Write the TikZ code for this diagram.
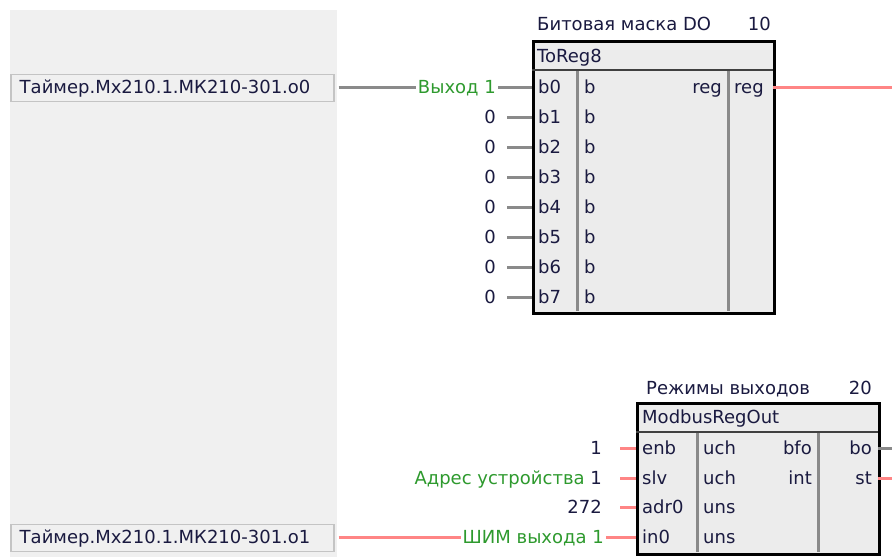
\documentclass[tikz,border=0pt]{standalone}
\usepackage{fontspec}
\setmainfont{DejaVu Sans}
\usetikzlibrary{positioning}
\definecolor{panelgray}{HTML}{F0F0F0}
\definecolor{blockgray}{HTML}{ECECEC}
\definecolor{srcedge}{HTML}{C4C4C4}
\definecolor{txtnavy}{HTML}{1A1A40}
\definecolor{wiregray}{HTML}{8A8A8A}
\definecolor{wirered}{HTML}{FF8585}
\definecolor{lblgreen}{HTML}{2E9A2E}
\tikzset{
  every node/.style={text height=14.5pt, text depth=2.5pt},
  srcbox/.style={draw=srcedge, line width=1.5pt, fill=panelgray, anchor=north west,
    text width=305pt, inner xsep=9pt, inner ysep=0pt, minimum height=27pt, align=left, text=txtnavy},
  fblock/.style={draw=black, line width=3pt, fill=blockgray, anchor=north west, inner sep=0pt,
    text height=0pt, text depth=0pt},
  hdrline/.style={draw=black!75, line width=1.6pt},
  colline/.style={draw=wiregray, line width=3pt},
  pinname/.style={anchor=west, inner sep=0pt, text=txtnavy},
  pinout/.style={anchor=east, inner sep=0pt, text=txtnavy},
  constval/.style={anchor=east, inner sep=2pt, text=txtnavy},
  varlbl/.style={anchor=east, inner sep=2pt, text=lblgreen},
  wire/.style={draw=wiregray, line width=3pt},
  redwire/.style={draw=wirered, line width=3pt}
}
\begin{document}
\begin{tikzpicture}[x=1pt, y=-1pt, font=\fontsize{18}{20}\selectfont]
  \useasboundingbox[fill=white] (0,0) rectangle (892,557);
  % panel of sources
  \fill[panelgray] (10,10) rectangle (337,557);
  \node[srcbox] (src0) at (10,73.5) {Таймер.Мх210.1.МК210-301.о0};
  \node[srcbox] (src1) at (10,523.5) {Таймер.Мх210.1.МК210-301.о1};

  % block ToReg8
  \node[txtnavy, anchor=west, inner sep=0pt] (maskttl) at (537,24) {Битовая маска DO};
  \node[txtnavy, anchor=east, inner sep=0pt] (masknum) at (771,24) {10};
  \node[fblock, minimum width=241pt, minimum height=272pt] (mask) at (532,40) {};
  \node[pinname] (maskhdr) at (537,56) {ToReg8};
  \draw[hdrline] (532,70) -- (773,70);
  \draw[colline] (577,71) -- (577,311);
  \draw[colline] (728,71) -- (728,311);
  \foreach \i in {0,...,7} {
    \node[pinname] (b\i) at (538,{87+30*\i}) {b\i};
    \node[pinname] (bt\i) at (584,{87+30*\i}) {b};
    \coordinate (pb\i) at (532,{87+30*\i});
  }
  \node[pinout] (regt) at (722,87) {reg};
  \node[pinname] (reg) at (734,87) {reg};
  \coordinate (regend) at (892,87);

  % inputs of ToReg8
  \node[varlbl] (out1) at (498,87) {Выход 1};
  \draw[wire] ([xshift=4pt]src0.east |- out1.west) -- (out1.west);
  \draw[wire] (out1.east) -- (pb0);
  \foreach \i in {1,...,7} {
    \node[constval] (c\i) at (498,{87+30*\i}) {0};
    \draw[wire] ([xshift=9pt]c\i.east) -- (pb\i);
  }
  \draw[redwire] (773,87) -- (regend);

  % block ModbusRegOut
  \node[txtnavy, anchor=west, inner sep=0pt] (modttl) at (646,388) {Режимы выходов};
  \node[txtnavy, anchor=east, inner sep=0pt] (modnum) at (872,388) {20};
  \node[fblock, minimum width=242pt, minimum height=151pt] (mod) at (636,402) {};
  \node[pinname] (modhdr) at (642,417) {ModbusRegOut};
  \draw[hdrline] (636,432) -- (878,432);
  \draw[colline] (697,433) -- (697,552);
  \draw[colline] (818,433) -- (818,552);
  \node[pinname] (enb) at (642,448) {enb};
  \node[pinname] (slv) at (642,478) {slv};
  \node[pinname] (adr) at (642,507) {adr0};
  \node[pinname] (inz) at (642,537) {in0};
  \node[pinname] (enbt) at (703,448) {uch};
  \node[pinname] (slvt) at (703,478) {uch};
  \node[pinname] (adrt) at (703,507) {uns};
  \node[pinname] (inzt) at (703,537) {uns};
  \node[pinout] (bfo) at (812,448) {bfo};
  \node[pinout] (int) at (812,478) {int};
  \node[pinout] (bo) at (872,448) {bo};
  \node[pinout] (st) at (872,478) {st};
  \coordinate (penb) at (636,448);
  \coordinate (pslv) at (636,478);
  \coordinate (padr) at (636,507);
  \coordinate (pinz) at (636,537);
  \coordinate (boend) at (892,448);
  \coordinate (stend) at (892,478);

  % inputs of ModbusRegOut
  \node[constval] (one) at (604,448) {1};
  \node[constval] (slvlbl) at (604,478) {\textcolor{lblgreen}{Адрес устройства} 1};
  \node[constval] (adrval) at (604,507) {272};
  \node[varlbl] (pwm1) at (606,537) {ШИМ выхода 1};
  \draw[redwire] ([xshift=16pt]one.east) -- (penb);
  \draw[redwire] ([xshift=16pt]slvlbl.east) -- (pslv);
  \draw[redwire] ([xshift=16pt]adrval.east) -- (padr);
  \draw[redwire] ([xshift=4pt]src1.east |- pwm1.west) -- (pwm1.west);
  \draw[redwire] (pwm1.east) -- (pinz);
  \draw[wire] (878,448) -- (boend);
  \draw[redwire] (878,478) -- (stend);
\end{tikzpicture}
\end{document}
